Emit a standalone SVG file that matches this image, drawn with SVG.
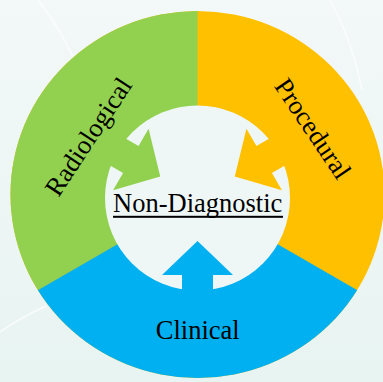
<svg xmlns="http://www.w3.org/2000/svg" width="383" height="382" viewBox="0 0 383 382">
  <defs>
    <linearGradient id="bg" x1="0" y1="0" x2="0" y2="1">
      <stop offset="0" stop-color="#F3F8F9"/>
      <stop offset="1" stop-color="#E8F4F1"/>
    </linearGradient>
    <clipPath id="disc">
      <ellipse cx="197.5" cy="194.5" rx="187" ry="183.5"/>
    </clipPath>
    <!-- block arrow pointing up, drawn relative to the ring centre -->
    <path id="arrow" d="M0 43 L35.5 77 L15.5 77 L15.5 106 L-15.5 106 L-15.5 77 L-35.5 77 Z"/>
  </defs>
  <style>
    .label { font-family: "Liberation Serif", "Times New Roman", serif; font-size: 26.5px; fill: #000; }
    .green { fill: #92D050; }
    .orange { fill: #FFC000; }
    .blue { fill: #00B0F0; }
    .hole { fill: #EFF7F6; }
    .deco { fill: none; stroke: #FFFFFF; stroke-width: 1.5; opacity: 0.7; }
  </style>

  <!-- backdrop -->
  <rect width="383" height="382" fill="url(#bg)"/>
  <path class="deco" d="M38 0 Q62 30 78 68"/>
  <path class="deco" d="M0 332 Q20 318 46 306"/>
  <path class="deco" d="M330 0 Q352 40 362 90"/>

  <!-- ring segments -->
  <g id="procedural">
    <ellipse class="orange" cx="197.5" cy="194.5" rx="187" ry="183.5"/>
    <text class="label" transform="translate(313 128.5) rotate(56)" y="9" text-anchor="middle">Procedural</text>
  </g>
  <g id="radiological">
    <path class="green" clip-path="url(#disc)" d="M197.5 198 L-62.3 348 L-62.3 -10 L197.5 -10 Z"/>
    <text class="label" transform="translate(90.8 138.3) rotate(-56.5)" y="6" text-anchor="middle">Radiological</text>
  </g>
  <g id="clinical">
    <path class="blue" clip-path="url(#disc)" d="M197.5 198 L457.3 348 L457.3 400 L-62.3 400 L-62.3 348 Z"/>
    <text class="label" x="197.7" y="339.3" text-anchor="middle">Clinical</text>
  </g>

  <!-- centre -->
  <g id="non-diagnostic">
    <circle class="hole" cx="197.5" cy="198" r="92.5"/>
  </g>

  <!-- arrows from each segment into the centre -->
  <g id="connectors">
    <use href="#arrow" class="blue" transform="translate(197.5 198)"/>
    <use href="#arrow" class="green" transform="translate(197.5 198) rotate(120)"/>
    <use href="#arrow" class="orange" transform="translate(197.5 198) rotate(-120)"/>
  </g>

  <g id="non-diagnostic-label">
    <text class="label" x="197.7" y="211.7" text-anchor="middle">Non-Diagnostic</text>
    <rect x="113" y="215.8" width="170" height="2" fill="#000"/>
  </g>
</svg>
